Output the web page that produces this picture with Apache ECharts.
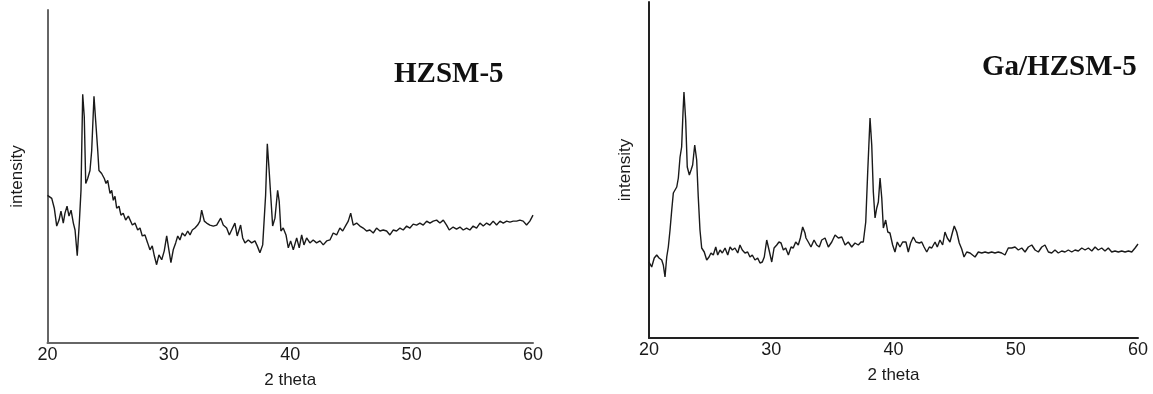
<!DOCTYPE html>
<html>
<head>
<meta charset="utf-8">
<script src="https://cdn.jsdelivr.net/npm/echarts@6/dist/echarts.min.js"></script>
<style>
html,body{margin:0;padding:0;background:#fff;}
#chart{width:1153px;height:394px;}
</style>
</head>
<body>
<div id="chart"></div>
<script>
// ---- Data (2 theta, arbitrary intensity units) ----
const panelTitles = ['HZSM-5', 'Ga/HZSM-5'];
const xAxisName = '2 theta';
const yAxisName = 'intensity';

const hzsmTheta = [20.00,20.35,20.56,20.76,20.95,21.11,21.30,21.44,21.61,21.77,21.94,22.13,22.27,22.45,22.62,22.76,22.90,23.03,23.15,23.31,23.50,23.64,23.83,23.97,24.14,24.24,24.46,24.68,24.82,24.96,25.15,25.29,25.42,25.56,25.70,25.89,26.05,26.24,26.44,26.66,26.80,26.99,27.21,27.43,27.62,27.81,28.03,28.25,28.44,28.63,28.80,28.99,29.18,29.41,29.62,29.82,30.00,30.17,30.36,30.56,30.73,30.91,31.10,31.33,31.55,31.74,31.93,32.15,32.37,32.56,32.70,32.92,33.11,33.38,33.66,33.94,34.27,34.48,34.76,34.98,35.17,35.44,35.63,35.91,36.08,36.27,36.54,36.82,37.09,37.28,37.50,37.73,37.86,37.97,38.11,38.25,38.39,38.55,38.74,38.96,39.09,39.23,39.42,39.65,39.84,40.03,40.25,40.53,40.74,40.94,41.13,41.35,41.62,41.89,42.17,42.45,42.72,43.00,43.27,43.54,43.82,44.09,44.32,44.59,44.78,44.98,45.19,45.47,45.74,46.01,46.29,46.56,46.84,47.11,47.39,47.66,47.94,48.21,48.48,48.76,49.04,49.31,49.59,49.86,50.13,50.41,50.68,50.96,51.24,51.51,51.78,52.06,52.33,52.61,52.88,53.10,53.42,53.70,53.98,54.25,54.53,54.80,55.07,55.35,55.63,55.90,56.18,56.45,56.72,57.00,57.28,57.55,57.83,58.10,58.37,58.65,58.92,59.19,59.47,59.74,60.00];
const hzsmIntensity = [149,146,136,118,124,133,121,131,138,128,134,121,114,88,121,154,251,228,161,166,174,194,249,224,194,174,171,166,161,164,151,154,144,148,136,138,129,131,124,128,129,119,121,114,116,108,109,101,94,98,88,79,89,84,93,108,94,81,94,101,108,104,111,108,113,109,114,116,119,123,134,123,121,119,118,119,126,119,116,109,114,121,108,119,106,101,104,101,103,98,91,99,101,149,201,176,149,118,126,154,143,113,116,109,96,103,94,106,96,109,99,106,101,104,101,103,99,103,104,111,109,116,113,119,123,131,119,121,118,116,113,114,111,116,113,114,113,109,114,113,116,114,118,116,120,119,121,119,123,121,123,124,121,124,119,114,117,115,117,114,116,114,118,116,121,118,121,119,123,119,123,121,123,122,123,123,124,123,119,123,129];

const gaTheta = [20.00,20.22,20.43,20.63,20.82,21.04,21.17,21.31,21.45,21.58,21.72,21.86,21.99,22.13,22.27,22.40,22.54,22.67,22.78,22.86,23.00,23.13,23.30,23.44,23.57,23.74,23.90,24.03,24.17,24.31,24.52,24.72,24.91,25.07,25.26,25.46,25.62,25.81,26.00,26.22,26.44,26.63,26.82,27.03,27.26,27.44,27.63,27.85,28.07,28.26,28.45,28.67,28.89,29.08,29.27,29.43,29.63,29.82,30.04,30.23,30.45,30.63,30.80,30.99,31.18,31.40,31.62,31.80,32.00,32.21,32.38,32.57,32.76,32.84,33.03,33.25,33.50,33.72,33.93,34.13,34.40,34.67,34.95,35.22,35.49,35.77,36.04,36.30,36.58,36.85,37.12,37.34,37.53,37.73,37.89,38.08,38.22,38.35,38.49,38.63,38.76,38.90,39.04,39.17,39.36,39.53,39.71,39.93,40.12,40.31,40.53,40.75,41.02,41.21,41.40,41.62,41.84,42.11,42.31,42.50,42.72,42.93,43.13,43.40,43.58,43.80,44.02,44.21,44.40,44.62,44.81,44.97,45.17,45.38,45.58,45.77,45.99,46.26,46.40,46.67,46.94,47.22,47.49,47.76,48.03,48.30,48.57,48.85,49.12,49.39,49.67,49.94,50.21,50.49,50.76,51.03,51.31,51.58,51.85,52.13,52.39,52.67,52.94,53.21,53.48,53.76,54.03,54.30,54.58,54.85,55.12,55.40,55.67,55.94,56.22,56.49,56.75,57.03,57.30,57.57,57.85,58.12,58.39,58.67,58.94,59.22,59.49,59.76,60.00];
const gaIntensity = [76,71,80,83,80,78,73,61,81,91,108,128,145,148,151,160,181,191,225,246,218,171,163,168,173,193,178,141,108,90,86,78,81,85,83,91,83,88,85,90,83,91,88,90,85,93,88,85,86,81,83,78,80,75,76,81,98,88,76,90,93,96,95,88,90,83,91,90,96,93,100,111,105,100,96,91,98,93,91,98,100,91,96,103,100,101,93,96,91,95,93,96,96,116,166,220,193,146,120,130,136,160,140,110,118,106,105,93,86,96,91,96,96,86,95,101,96,95,96,91,86,91,90,96,91,98,93,106,100,96,105,112,106,95,89,81,86,85,86,81,86,85,86,85,86,85,86,85,83,90,90,91,88,90,86,91,93,88,86,91,93,86,85,88,85,87,86,88,86,88,87,90,88,90,87,91,88,90,87,90,86,87,86,87,86,87,86,90,94];

const xMin = 20, xMax = 60, xStep = 10;
const yMax = 336;

function pairs(xs, ys){ return xs.map((x,i)=>[x, ys[i]]); }

const chart = echarts.init(document.getElementById('chart'), null, {renderer:'canvas'});
const labelFont = {fontFamily:'Liberation Sans, Arial, sans-serif', fontSize:18, color:'#1a1a1a'};

function xAx(idx, axisColor){
  return {
    gridIndex: idx, type:'value', min:xMin, max:xMax, interval:xStep,
    name: xAxisName, nameLocation:'middle', nameGap:29,
    nameTextStyle: Object.assign({}, labelFont, {fontSize:17}),
    axisLine:{show:true, onZero:false, lineStyle:{color:axisColor, width:2}},
    axisTick:{show:false},
    splitLine:{show:false},
    axisLabel: Object.assign({margin:3, showMinLabel:true, showMaxLabel:true}, labelFont)
  };
}
function yAx(idx, axisColor, gap){
  return {
    gridIndex: idx, type:'value', min:0, max:yMax,
    name: yAxisName, nameLocation:'middle', nameGap:gap, nameRotate:90,
    nameTextStyle: Object.assign({}, labelFont, {fontSize:17}),
    axisLine:{show:true, lineStyle:{color:axisColor, width:2}},
    axisTick:{show:false},
    splitLine:{show:false},
    axisLabel:{show:false}
  };
}

const option = {
  backgroundColor:'#fff',
  animation:false,
  title:[
    {text:panelTitles[0], left:389, top:55, textStyle:{fontFamily:'Liberation Serif, Times New Roman, serif', fontWeight:'bold', fontSize:29, color:'#111'}},
    {text:panelTitles[1], left:977, top:48, textStyle:{fontFamily:'Liberation Serif, Times New Roman, serif', fontWeight:'bold', fontSize:29, color:'#111'}}
  ],
  grid:[
    {left:47.5, right:620, top:10, bottom:48, containLabel:false},
    {left:649, right:15, top:2, bottom:56, containLabel:false}
  ],
  xAxis:[xAx(0,'#666'), xAx(1,'#222')],
  yAxis:[yAx(0,'#666',22), yAx(1,'#222',15)],
  series:[
    {type:'line', xAxisIndex:0, yAxisIndex:0, data:pairs(hzsmTheta,hzsmIntensity), showSymbol:false, symbol:'none', lineStyle:{color:'#1a1a1a', width:1.4}},
    {type:'line', xAxisIndex:1, yAxisIndex:1, data:pairs(gaTheta,gaIntensity), showSymbol:false, symbol:'none', lineStyle:{color:'#1a1a1a', width:1.4}}
  ]
};
chart.setOption(option);
</script>
</body>
</html>
